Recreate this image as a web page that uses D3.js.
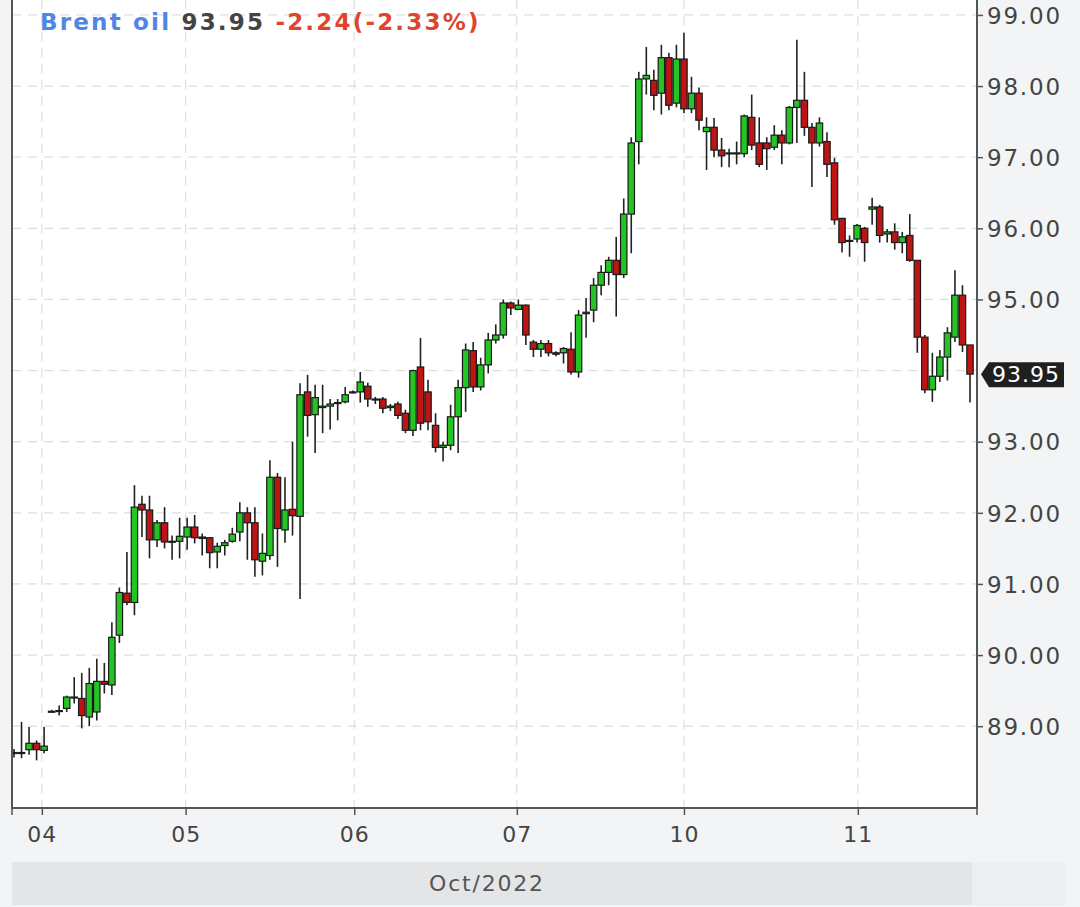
<!DOCTYPE html>
<html>
<head>
<meta charset="utf-8">
<script src="https://cdn.jsdelivr.net/npm/d3@7"></script>
<style>
    body { margin: 0; background: #f3f4f6; }
    svg { display: block; }
</style>
</head>
<body>
<div id="chart"></div>
<script>

// hourly candles, Brent oil, 03-11 Oct 2022
const opens = [
    88.62, 88.63, 88.67, 88.76, 88.66, 89.21, 89.21, 89.25, 89.40, 89.39, 89.13, 89.20, 89.63, 89.58, 90.28, 90.87,
    90.74, 92.12, 92.04, 91.62, 91.86, 91.59, 91.60, 91.66, 91.80, 91.66, 91.65, 91.45, 91.54, 91.60, 91.73, 92.00,
    91.86, 91.32, 91.40, 92.50, 91.76, 92.05, 91.95, 93.70, 93.38, 93.48, 93.50, 93.54, 93.56, 93.70, 93.70, 93.78,
    93.60, 93.60, 93.48, 93.53, 93.40, 93.16, 94.05, 93.70, 93.23, 92.92, 92.95, 93.35, 93.76, 94.28, 93.77, 94.08,
    94.43, 94.50, 94.95, 94.86, 94.92, 94.40, 94.30, 94.38, 94.25, 94.25, 94.30, 93.98, 94.80, 94.85, 95.20, 95.38,
    95.55, 95.35, 96.20, 97.22, 98.10, 98.08, 97.90, 98.40, 97.76, 98.38, 97.68, 97.90, 97.36, 97.42, 97.10, 97.05,
    97.06, 97.05, 97.56, 97.20, 97.20, 97.14, 97.31, 97.20, 97.70, 97.80, 97.42, 97.20, 97.22, 96.92, 96.14, 95.82,
    95.85, 96.00, 96.27, 96.30, 95.92, 95.95, 95.80, 95.90, 95.55, 94.47, 93.73, 93.92, 94.19, 94.47, 95.06, 94.36
];
const highs = [
    88.68, 89.06, 88.99, 88.80, 88.99, 89.23, 89.29, 89.43, 89.69, 89.75, 89.82, 89.95, 89.89, 90.46, 90.95, 91.45,
    92.39, 92.24, 92.24, 91.90, 92.08, 91.68, 91.93, 91.93, 91.97, 91.71, 91.66, 91.58, 91.62, 91.79, 92.15, 92.08,
    92.08, 91.71, 92.74, 92.56, 92.50, 93.00, 93.82, 93.94, 93.80, 93.80, 93.60, 93.60, 93.77, 93.72, 93.98, 93.83,
    93.63, 93.63, 93.53, 93.56, 93.45, 94.01, 94.46, 93.87, 93.40, 93.00, 93.52, 93.87, 94.38, 94.40, 94.18, 94.53,
    94.65, 95.00, 94.97, 95.00, 94.93, 94.43, 94.43, 94.43, 94.27, 94.33, 94.54, 94.85, 95.02, 95.30, 95.48, 95.60,
    95.88, 96.42, 97.28, 98.20, 98.55, 98.23, 98.58, 98.47, 98.58, 98.75, 98.13, 97.98, 97.56, 97.55, 97.27, 97.12,
    97.22, 97.60, 97.88, 97.56, 97.28, 97.45, 97.38, 97.72, 98.65, 98.20, 97.48, 97.56, 97.35, 96.99, 96.14, 95.90,
    96.06, 96.02, 96.43, 96.33, 95.99, 96.07, 95.95, 96.20, 95.55, 94.50, 94.25, 94.29, 94.61, 95.41, 95.20, 94.36
];
const lows = [
    88.56, 88.55, 88.60, 88.52, 88.62, 89.19, 89.15, 89.20, 89.32, 88.97, 89.00, 89.08, 89.46, 89.44, 90.17, 90.70,
    90.56, 91.66, 91.36, 91.52, 91.50, 91.34, 91.36, 91.48, 91.57, 91.40, 91.22, 91.22, 91.40, 91.58, 91.60, 91.34,
    91.10, 91.12, 91.34, 91.24, 91.58, 91.68, 90.79, 93.07, 92.84, 93.12, 93.17, 93.30, 93.54, 93.68, 93.55, 93.49,
    93.53, 93.40, 93.43, 93.32, 93.12, 93.08, 93.16, 93.16, 92.85, 92.72, 92.88, 92.84, 93.42, 93.70, 93.72, 93.96,
    94.38, 94.45, 94.78, 94.85, 94.36, 94.19, 94.19, 94.20, 94.20, 94.10, 93.94, 93.90, 94.46, 94.68, 95.06, 95.20,
    94.76, 95.30, 95.65, 96.90, 97.88, 97.66, 97.60, 97.66, 97.70, 97.62, 97.62, 97.38, 96.82, 97.00, 96.86, 96.86,
    96.90, 97.00, 97.10, 96.86, 96.82, 97.10, 96.90, 97.18, 97.20, 97.30, 96.58, 97.15, 96.72, 96.05, 95.66, 95.60,
    95.80, 95.53, 96.05, 95.80, 95.80, 95.70, 95.65, 95.53, 94.25, 93.68, 93.56, 93.84, 93.86, 94.40, 94.26, 93.55
];
const closes = [
    88.63, 88.63, 88.76, 88.67, 88.72, 89.21, 89.22, 89.41, 89.41, 89.15, 89.60, 89.63, 89.59, 90.25, 90.88, 90.74,
    92.08, 92.04, 91.62, 91.86, 91.59, 91.60, 91.67, 91.80, 91.65, 91.64, 91.44, 91.53, 91.58, 91.70, 92.00, 91.86,
    91.34, 91.43, 92.50, 91.78, 92.04, 91.96, 93.66, 93.37, 93.62, 93.50, 93.53, 93.55, 93.66, 93.70, 93.84, 93.60,
    93.59, 93.47, 93.50, 93.37, 93.16, 94.00, 93.26, 93.28, 92.92, 92.95, 93.35, 93.76, 94.29, 93.77, 94.08, 94.43,
    94.50, 94.95, 94.88, 94.92, 94.50, 94.30, 94.38, 94.25, 94.23, 94.31, 93.98, 94.78, 94.82, 95.20, 95.38, 95.55,
    95.35, 96.20, 97.20, 98.10, 98.15, 97.87, 98.40, 97.73, 98.38, 97.68, 97.90, 97.52, 97.42, 97.10, 97.02, 97.06,
    97.05, 97.58, 97.17, 96.90, 97.12, 97.31, 97.20, 97.70, 97.80, 97.42, 97.20, 97.48, 96.90, 96.12, 95.80, 95.83,
    96.04, 95.80, 96.30, 95.90, 95.95, 95.80, 95.88, 95.55, 94.47, 93.73, 93.92, 94.19, 94.53, 95.06, 94.36, 93.95
];

// day ticks: candle index where each day starts
const dayIndex = [3.7, 22.8, 45.2, 66.8, 89, 112.1];
const dayLabels = ["04", "05", "06", "07", "10", "11"];
const priceTicks = [89, 90, 91, 92, 93, 94, 95, 96, 97, 98, 99];
const monthLabel = "Oct/2022";

const title = { name: "Brent oil", last: "93.95", change: "-2.24(-2.33%)" };


class CandleChart {
    constructor(id, settings){
        this.id = id;
        this.width = settings.width || 1080;
        this.height = settings.height || 907;
        // plot box inside the svg
        this.plot = {left: 12, right: 977, top: 0, bottom: 808};
        this.font = "'DejaVu Sans', sans-serif";
        this.up = "#25c425";
        this.down = "#bd1414";
    }

    render() {
        let plot = this.plot;
        let font = this.font;
        let n = closes.length;
        let last = closes[n - 1];

        let candles = d3.range(n).map(i => ({
            i: i, o: opens[i], h: highs[i], l: lows[i], c: closes[i]
        }));

        let svg = d3.select(this.id).append("svg")
            .attr("width", this.width)
            .attr("height", this.height)
            .style("background", "#f3f4f6");

        let x = d3.scaleLinear()
            .domain([0, n - 1])
            .range([14, 970]);

        let y = d3.scaleLinear()
            .domain([87.85, 99.21])
            .range([plot.bottom, plot.top]);

        let bodyW = 6.4;

        // white plot area
        svg.append("rect")
            .attr("x", plot.left)
            .attr("y", plot.top)
            .attr("width", plot.right - plot.left)
            .attr("height", plot.bottom - plot.top)
            .attr("fill", "#ffffff");

        // month band under the axis
        svg.append("rect")
            .attr("x", plot.left)
            .attr("y", 862)
            .attr("width", 972 - plot.left)
            .attr("height", 43)
            .attr("fill", "#e4e5e7");
        svg.append("rect")
            .attr("x", 972)
            .attr("y", 862)
            .attr("width", 93)
            .attr("height", 43)
            .attr("fill", "#eceef0");

        svg.append("text")
            .attr("x", 487)
            .attr("y", 891)
            .attr("text-anchor", "middle")
            .style("font", `22px ${font}`)
            .style("letter-spacing", "1.8px")
            .attr("fill", "#555")
            .text(monthLabel);

        // grid
        let grid = svg.append("g")
            .attr("stroke", "#dedede")
            .attr("stroke-width", 1.2)
            .attr("stroke-dasharray", "9,7");

        grid.selectAll("line.h")
            .data(priceTicks)
            .join("line")
            .attr("class", "h")
            .attr("x1", plot.left)
            .attr("x2", plot.right)
            .attr("y1", d => y(d))
            .attr("y2", d => y(d));

        grid.selectAll("line.v")
            .data(dayIndex)
            .join("line")
            .attr("class", "v")
            .attr("x1", d => x(d))
            .attr("x2", d => x(d))
            .attr("y1", plot.top)
            .attr("y2", plot.bottom);

        // candles
        let g = svg.append("g")
            .attr("clip-path", "url(#clip)");

        svg.append("clipPath")
            .attr("id", "clip")
            .append("rect")
            .attr("x", plot.left + 1)
            .attr("y", plot.top)
            .attr("width", plot.right - plot.left - 1)
            .attr("height", plot.bottom - plot.top);

        g.selectAll("line.wick")
            .data(candles)
            .join("line")
            .attr("class", "wick")
            .attr("x1", d => x(d.i))
            .attr("x2", d => x(d.i))
            .attr("y1", d => y(d.h))
            .attr("y2", d => y(d.l))
            .attr("stroke", "#222")
            .attr("stroke-width", 1.6);

        g.selectAll("rect.body")
            .data(candles)
            .join("rect")
            .attr("class", "body")
            .attr("x", d => x(d.i) - bodyW / 2)
            .attr("width", bodyW)
            .attr("y", d => y(Math.max(d.o, d.c)))
            .attr("height", d => Math.max(1, Math.abs(y(d.o) - y(d.c))))
            .attr("fill", d => d.c >= d.o ? this.up : this.down)
            .attr("stroke", "#1a1a1a")
            .attr("stroke-width", 1.2);

        // right price axis (the label under the last price marker is hidden)
        let yAxis = svg.append("g")
            .attr("transform", `translate(${plot.right},0)`)
            .call(d3.axisRight(y)
                .tickValues(priceTicks.filter(d => Math.abs(d - last) > 0.4))
                .tickFormat(d3.format(".2f"))
                .tickSize(6)
                .tickPadding(4));
        yAxis.select(".domain").remove();
        yAxis.selectAll("line").attr("stroke", "#555").attr("stroke-width", 1.5);
        yAxis.selectAll("text")
            .style("font", `23px ${font}`)
            .style("letter-spacing", "1.8px")
            .attr("fill", "#444")
            .attr("dy", "0.36em");

        // bottom day axis
        let xAxis = svg.append("g")
            .attr("transform", `translate(0,${plot.bottom})`)
            .call(d3.axisBottom(x)
                .tickValues(dayIndex)
                .tickFormat((d, i) => dayLabels[i])
                .tickSize(7)
                .tickPadding(11));
        xAxis.select(".domain").remove();
        xAxis.selectAll("line").attr("stroke", "#555").attr("stroke-width", 1.5);
        xAxis.selectAll("text")
            .style("font", `22px ${font}`)
            .style("letter-spacing", "1px")
            .attr("fill", "#444");

        // plot frame: left, right and bottom
        svg.append("path")
            .attr("d", `M${plot.left},${plot.top}V${plot.bottom}H${plot.right}V${plot.top}`)
            .attr("fill", "none")
            .attr("stroke", "#555")
            .attr("stroke-width", 2);
        svg.append("line")
            .attr("x1", plot.left).attr("x2", plot.left)
            .attr("y1", plot.bottom).attr("y2", plot.bottom + 7)
            .attr("stroke", "#555").attr("stroke-width", 1.5);
        svg.append("line")
            .attr("x1", plot.right).attr("x2", plot.right)
            .attr("y1", plot.bottom).attr("y2", plot.bottom + 7)
            .attr("stroke", "#555").attr("stroke-width", 1.5);

        // last price marker
        let ly = y(last);
        svg.append("path")
            .attr("d", `M${plot.right + 4},${ly}L${plot.right + 12},${ly - 12}H1064V${ly + 13}H${plot.right + 12}Z`)
            .attr("fill", "#1f1f1f");
        svg.append("text")
            .attr("x", 1026)
            .attr("y", ly)
            .attr("dy", "0.36em")
            .attr("text-anchor", "middle")
            .style("font", `22px ${font}`)
            .style("letter-spacing", "1px")
            .attr("fill", "#ffffff")
            .text(d3.format(".2f")(last));

        // title
        let t = svg.append("text")
            .attr("x", 40)
            .attr("y", 30)
            .style("font", `bold 23px ${font}`)
            .style("letter-spacing", "2.2px");
        t.append("tspan").attr("fill", "#4f86e6").text(title.name + " ");
        t.append("tspan").attr("fill", "#444").text(title.last + " ");
        t.append("tspan").attr("fill", "#e0442c").text(title.change);
    }
}

new CandleChart("#chart", {width: 1080, height: 907}).render();
</script>
</body>
</html>
